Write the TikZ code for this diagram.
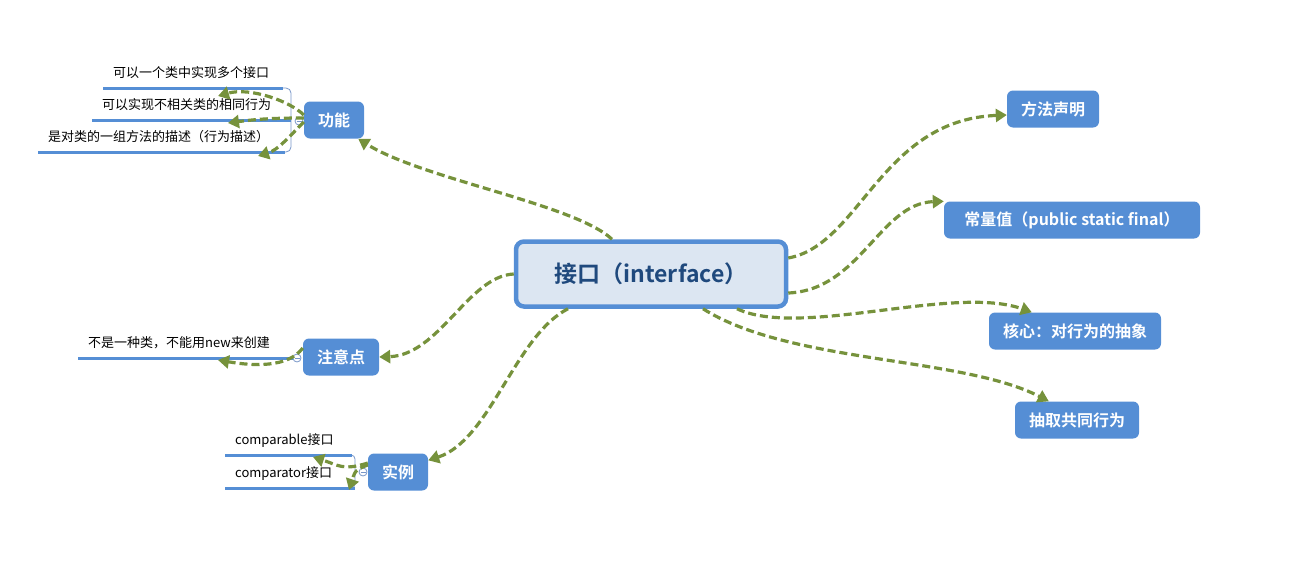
\documentclass[tikz,border=0pt]{standalone}
\usepackage{fontspec}
\setmainfont{Noto Sans CJK SC}[BoldFont={Noto Sans CJK SC Bold}]
\usetikzlibrary{arrows.meta}

\definecolor{linkgreen}{RGB}{118,146,60}
\definecolor{topicblue}{RGB}{85,142,213}
\definecolor{corefill}{RGB}{220,230,242}
\definecolor{coretext}{RGB}{31,73,125}
\definecolor{barblue}{RGB}{120,150,200}

\tikzset{
    core/.style={draw=topicblue, line width=4.5pt, fill=corefill, rounded corners=8pt,
        minimum width=270pt, minimum height=65pt, text=coretext,
        font=\fontsize{23}{27}\selectfont\bfseries},
    topic/.style={fill=topicblue, rounded corners=6pt, minimum height=37pt, inner xsep=14pt,
        text=white, font=\fontsize{16}{19}\selectfont\bfseries},
    leaf/.style={anchor=south west, inner xsep=10pt, inner ysep=7pt, text depth=3.5pt,
        font=\fontsize{13}{15}\selectfont},
    uline/.style={topicblue, line width=3pt},
    barline/.style={barblue, line width=0.8pt},
    knob/.style={circle, draw=barblue, fill=white, line width=0.8pt, minimum size=8pt, inner sep=0pt,
        path picture={\draw[barblue, line width=0.7pt]
            ([xshift=-2.5pt]path picture bounding box.center) -- ([xshift=2.5pt]path picture bounding box.center);}},
    link/.style={linkgreen, line width=3.2pt, dash pattern=on 8pt off 4pt,
        -{Triangle[width=13pt,length=11pt]}},
}

\begin{document}
\begin{tikzpicture}[x=1pt,y=-1pt]
    \useasboundingbox (0,0) rectangle (1300,560);
    % main nodes
        \node[core] (core) at (651,274) {接口（interface）};
        \node[topic] (meth) at (1053,109) {方法声明};
        \node[topic, minimum width=256pt] (const) at (1072,220) {常量值（public static final）};
        \node[topic] (heart) at (1075,331) {核心：对行为的抽象};
        \node[topic] (abs) at (1077,420) {抽取共同行为};
        \node[topic] (fn) at (334,120) {功能};
        \node[topic] (att) at (341,357) {注意点};
        \node[topic] (ex) at (398,472) {实例};
    % leaves
        \node[leaf] (lf1) at (103,88) {可以一个类中实现多个接口};
        \node[leaf] (lf2) at (92,120) {可以实现不相关类的相同行为};
        \node[leaf] (lf3) at (38,152) {是对类的一组方法的描述（行为描述）};
        \node[leaf] (lf4) at (78,358) {不是一种类，不能用new来创建};
        \node[leaf] (lf5) at (225,455) {comparable接口};
        \node[leaf] (lf6) at (225,488) {comparator接口};
    % brackets and underlines
        \coordinate (fnbar) at (291,120);
        \coordinate (exbar) at (355,472);
        \draw[barline, rounded corners=5pt] ([xshift=-12pt]lf1.south west -| fnbar) -- (lf1.south west -| fnbar)
            -- (lf3.south west -| fnbar) -- ([xshift=-12pt]lf3.south west -| fnbar);
        \draw[barline, rounded corners=4pt] ([xshift=-10pt]lf5.south west -| exbar) -- (lf5.south west -| exbar)
            -- (lf6.south west -| exbar) -- ([xshift=-10pt]lf6.south west -| exbar);
        \draw[uline] (lf1.south west) -- ([xshift=-8pt]lf1.south west -| fnbar);
        \draw[uline] (lf2.south west) -- (lf2.south west -| fnbar);
        \draw[uline] (lf3.south west) -- ([xshift=-6pt]lf3.south west -| fnbar);
        \draw[uline] (lf5.south west) -- ([xshift=-3pt]lf5.south west -| exbar);
        \draw[uline] (lf6.south west) -- (lf6.south west -| exbar);
        \node[knob] (fnknob) at (299,121) {};
        \node[knob] (attknob) at (297,358) {};
        \node[knob] (exknob) at (363,472) {};
        \draw[uline] (lf4.south west) -- (attknob.west);
    % links from the core
        \draw[link] ([xshift=-39pt]core.north) .. controls +(-37,-35) and +(63,40) .. ([xshift=-6pt]fn.south east);
        \draw[link] (core.west) .. controls +(-45,2) and +(60,-2) .. (att.east);
        \draw[link] ([xshift=-83pt]core.south) .. controls +(-53,27) and +(62,-20) .. ([yshift=-7pt]ex.north east);
        \draw[link] ([yshift=16pt]core.east) .. controls +(72,-13) and +(-126,5) .. ([yshift=-6pt]meth.west);
        \draw[link] ([yshift=-19pt]core.east) .. controls +(72,-3) and +(-64,2) .. (const.north west);
        \draw[link] ([xshift=86pt]core.south) .. controls +(63,30) and +(-78,-28) .. ([xshift=43pt]heart.north west);
        \draw[link] ([xshift=52pt]core.south) .. controls +(87,55) and +(-87,-45) .. ([xshift=34pt]abs.north west);
    % links to the leaves
        \draw[link] ([yshift=5pt]fn.west) .. controls +(-14,-14) and +(32,-9) .. ([xshift=115pt,yshift=-8pt]lf1.south west);
        \draw[link] ([yshift=2pt]fn.west) .. controls +(-30,0) and +(30,-4) .. ([xshift=136pt,yshift=-3pt]lf2.south west);
        \draw[link] ([yshift=-2pt]fn.west) .. controls +(-15,15) and +(20,-6) .. ([xshift=220pt,yshift=-4pt]lf3.south west);
        \draw[link] ([yshift=9pt]att.west) .. controls +(-15,20) and +(35,6) .. ([xshift=140pt,yshift=-2pt]lf4.south west);
        \draw[link] ([yshift=9pt]ex.west) .. controls +(-25,8) and +(25,8) .. ([xshift=88pt,yshift=-2pt]lf5.south west);
        \draw[link] ([yshift=7pt]ex.west) .. controls +(-15,5) and +(5,-15) .. ([xshift=124pt,yshift=-2pt]lf6.south west);
\end{tikzpicture}
\end{document}
